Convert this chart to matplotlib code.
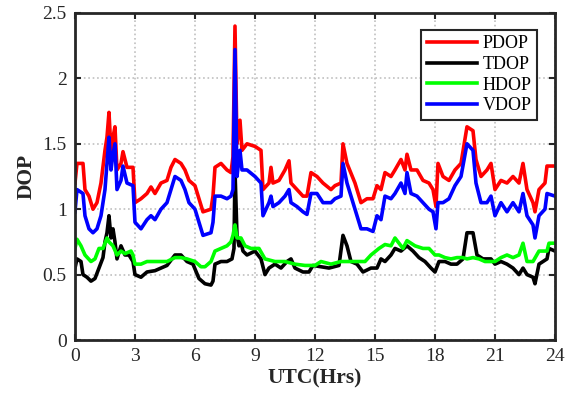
import matplotlib
matplotlib.use("Agg")
import matplotlib.pyplot as plt

plt.rcParams['font.family'] = ['Liberation Serif', 'DejaVu Serif']

# ---- data (hours, DOP) ----
pdop_t = [0.0, 0.1, 0.4, 0.5, 0.7, 0.9, 1.1, 1.3, 1.5, 1.6, 1.7, 1.8, 1.9, 2.0, 2.1, 2.3, 2.4, 2.6, 2.9,
          3.0, 3.3, 3.6, 3.8, 4.0, 4.3, 4.6, 4.8, 5.0, 5.3, 5.5, 5.7, 6.0, 6.2, 6.4, 6.8, 6.9, 7.0, 7.3,
          7.6, 7.8, 7.9, 8.0, 8.1, 8.25, 8.35, 8.6, 9.0, 9.3, 9.4, 9.7, 9.8, 9.9, 10.2, 10.5, 10.7, 10.8,
          11.1, 11.4, 11.6, 11.8, 12.1, 12.4, 12.8, 13.0, 13.3, 13.4, 13.6, 14.0, 14.3, 14.6, 14.9, 15.1,
          15.3, 15.5, 15.8, 16.0, 16.3, 16.5, 16.6, 16.8, 17.1, 17.4, 17.7, 17.9, 18.05, 18.15, 18.4, 18.7,
          19.0, 19.3, 19.6, 19.9, 20.05, 20.3, 20.6, 20.8, 21.0, 21.3, 21.6, 21.9, 22.2, 22.4, 22.6, 22.9,
          23.0, 23.2, 23.5, 23.6, 24.0]
pdop_v = [1.2, 1.35, 1.35, 1.15, 1.1, 1.0, 1.05, 1.2, 1.45, 1.55, 1.74, 1.45, 1.55, 1.63, 1.3, 1.35, 1.44, 1.32, 1.32,
          1.05, 1.08, 1.12, 1.17, 1.12, 1.2, 1.22, 1.32, 1.38, 1.35, 1.3, 1.22, 1.18, 1.08, 0.98, 1.0, 1.1, 1.32, 1.35,
          1.3, 1.28, 1.4, 2.4, 1.5, 1.68, 1.45, 1.5, 1.48, 1.45, 1.15, 1.2, 1.32, 1.2, 1.22, 1.3, 1.37, 1.2,
          1.15, 1.1, 1.1, 1.28, 1.25, 1.2, 1.15, 1.18, 1.2, 1.5, 1.35, 1.2, 1.05, 1.08, 1.08, 1.18,
          1.15, 1.28, 1.25, 1.3, 1.38, 1.3, 1.42, 1.3, 1.3, 1.22, 1.2, 1.15, 1.02, 1.35, 1.25, 1.22,
          1.3, 1.35, 1.63, 1.6, 1.38, 1.25, 1.3, 1.35, 1.15, 1.22, 1.2, 1.25, 1.2, 1.35, 1.15, 1.05,
          0.98, 1.15, 1.2, 1.33, 1.33]

vdop_t = pdop_t
vdop_v = [0.98, 1.15, 1.12, 0.95, 0.85, 0.82, 0.85, 0.95, 1.15, 1.35, 1.55, 1.3, 1.42, 1.5, 1.15, 1.22, 1.33, 1.2, 1.18,
          0.9, 0.85, 0.92, 0.95, 0.92, 1.0, 1.05, 1.15, 1.25, 1.22, 1.15, 1.05, 1.0, 0.9, 0.8, 0.82, 0.9, 1.1, 1.1,
          1.08, 1.1, 1.15, 2.22, 1.25, 1.45, 1.3, 1.3, 1.25, 1.2, 0.95, 1.05, 1.1, 1.02, 1.05, 1.1, 1.15, 1.05,
          1.02, 0.98, 0.96, 1.12, 1.12, 1.05, 1.05, 1.08, 1.1, 1.35, 1.2, 1.0, 0.85, 0.85, 0.83, 0.95,
          0.92, 1.1, 1.08, 1.12, 1.2, 1.12, 1.28, 1.12, 1.1, 1.05, 1.0, 0.98, 0.85, 1.05, 1.05, 1.08,
          1.18, 1.25, 1.5, 1.45, 1.2, 1.05, 1.05, 1.1, 0.95, 1.05, 0.98, 1.05, 0.98, 1.12, 0.95, 0.88,
          0.78, 0.95, 1.0, 1.12, 1.1]

hdop_t = [0.0, 0.1, 0.3, 0.5, 0.8, 1.0, 1.2, 1.4, 1.6, 1.7, 1.9, 2.1, 2.3, 2.5, 2.8, 2.9, 3.0, 3.3, 3.6, 4.0,
          4.3, 4.6, 5.0, 5.3, 5.6, 6.0, 6.3, 6.5, 6.8, 7.0, 7.3, 7.6, 7.8, 7.9, 8.0, 8.1, 8.3, 8.5, 8.8,
          9.2, 9.5, 10.0, 10.5, 11.0, 11.5, 12.0, 12.3, 12.8, 13.3, 13.6, 14.0, 14.5, 14.8, 15.2, 15.5,
          15.8, 16.0, 16.4, 16.6, 17.0, 17.4, 17.7, 18.0, 18.2, 18.5, 18.8, 19.1, 19.4, 19.6, 19.9, 20.2,
          20.5, 21.0, 21.3, 21.6, 21.9, 22.2, 22.4, 22.6, 22.9, 23.2, 23.6, 23.7, 24.0]
hdop_v = [0.7, 0.77, 0.72, 0.65, 0.6, 0.62, 0.7, 0.7, 0.78, 0.75, 0.72, 0.65, 0.68, 0.66, 0.68, 0.65, 0.58, 0.58, 0.6, 0.6,
          0.6, 0.6, 0.63, 0.63, 0.62, 0.6, 0.56, 0.56, 0.6, 0.68, 0.7, 0.72, 0.75, 0.8, 0.88, 0.78, 0.78, 0.72, 0.7,
          0.7, 0.62, 0.6, 0.6, 0.58, 0.57, 0.57, 0.6, 0.58, 0.6, 0.6, 0.6, 0.6, 0.65, 0.7, 0.73,
          0.72, 0.78, 0.7, 0.76, 0.72, 0.7, 0.7, 0.65, 0.65, 0.63, 0.62, 0.63, 0.63, 0.62, 0.63, 0.62,
          0.6, 0.6, 0.63, 0.65, 0.63, 0.65, 0.74, 0.6, 0.6, 0.68, 0.68, 0.74, 0.74]

tdop_t = [0.0, 0.1, 0.3, 0.4, 0.6, 0.8, 1.0, 1.2, 1.4, 1.5, 1.6, 1.7, 1.8, 1.9, 2.0, 2.1, 2.3, 2.5, 2.7, 2.9,
          3.0, 3.3, 3.6, 4.0, 4.3, 4.6, 5.0, 5.3, 5.6, 5.9, 6.2, 6.5, 6.8, 6.9, 7.0, 7.3, 7.6, 7.85, 7.95,
          8.0, 8.1, 8.2, 8.3, 8.4, 8.6, 9.0, 9.3, 9.5, 9.7, 10.0, 10.3, 10.6, 10.8, 11.0, 11.4, 11.7, 11.9,
          12.3, 12.7, 13.2, 13.4, 13.6, 13.8, 14.1, 14.4, 14.8, 15.1, 15.3, 15.5, 15.8, 16.0, 16.3, 16.6,
          16.9, 17.2, 17.5, 17.8, 18.0, 18.2, 18.5, 18.8, 19.1, 19.4, 19.6, 19.9, 20.1, 20.4, 20.8, 21.0,
          21.3, 21.6, 21.9, 22.2, 22.4, 22.6, 22.9, 23.0, 23.2, 23.6, 23.7, 24.0]
tdop_v = [0.55, 0.62, 0.6, 0.5, 0.48, 0.45, 0.47, 0.55, 0.63, 0.75, 0.82, 0.95, 0.78, 0.85, 0.75, 0.62, 0.72, 0.65, 0.65, 0.6,
          0.5, 0.48, 0.52, 0.53, 0.55, 0.57, 0.65, 0.65, 0.6, 0.58, 0.47, 0.43, 0.42, 0.45, 0.58, 0.6, 0.6, 0.62, 0.7,
          1.3, 0.8, 0.72, 0.75, 0.68, 0.65, 0.68, 0.62, 0.5, 0.55, 0.58, 0.55, 0.6, 0.62, 0.55, 0.52, 0.52, 0.57,
          0.56, 0.55, 0.57, 0.8, 0.72, 0.6, 0.58, 0.52, 0.55, 0.55, 0.62, 0.6, 0.65, 0.7, 0.68, 0.72,
          0.68, 0.63, 0.6, 0.55, 0.52, 0.6, 0.6, 0.58, 0.58, 0.62, 0.82, 0.82, 0.65, 0.62, 0.62, 0.58,
          0.6, 0.58, 0.55, 0.5, 0.55, 0.5, 0.48, 0.43, 0.58, 0.62, 0.7, 0.68]

x_ticks = [0, 3, 6, 9, 12, 15, 18, 21, 24]
y_ticks = [0, 0.5, 1, 1.5, 2, 2.5]
y_tick_labels = ['0', '0.5', '1', '1.5', '2', '2.5']

fig = plt.figure(figsize=(5.75, 4.01), dpi=100)
ax = fig.add_axes([0.1304, 0.1521, 0.8348, 0.8155])

lw = 2.6
ax.plot(pdop_t, pdop_v, color='#ff0000', lw=lw, label='PDOP')
ax.plot(tdop_t, tdop_v, color='#000000', lw=lw, label='TDOP')
ax.plot(hdop_t, hdop_v, color='#00ff00', lw=lw, label='HDOP')
ax.plot(vdop_t, vdop_v, color='#0000ff', lw=lw, label='VDOP')

ax.set_xlim(0, 24)
ax.set_ylim(0, 2.5)
ax.set_xticks(x_ticks)
ax.set_yticks(y_ticks)
ax.set_yticklabels(y_tick_labels)
ax.tick_params(direction='in', length=4, width=1.5, top=True, right=True, labelsize=14, colors='#262626', pad=6)
ax.grid(True, color='#c0c0c0', linestyle=':', linewidth=1.2)
for s in ax.spines.values():
    s.set_linewidth(2)
    s.set_color('#262626')

ax.set_xlabel('UTC(Hrs)', fontsize=15.5, fontweight='bold', color='#262626', labelpad=2)
ax.set_ylabel('DOP', fontsize=15.5, fontweight='bold', color='#262626', labelpad=4)

leg = ax.legend(loc='upper right', bbox_to_anchor=(0.9625, 0.948), fontsize=13, handlelength=2.8,
                borderpad=0.3, labelspacing=0.2, handletextpad=0.3, borderaxespad=0, fancybox=False,
                framealpha=1, edgecolor='#262626')
leg.get_frame().set_linewidth(1.5)

fig.savefig('out.png', dpi=100)
